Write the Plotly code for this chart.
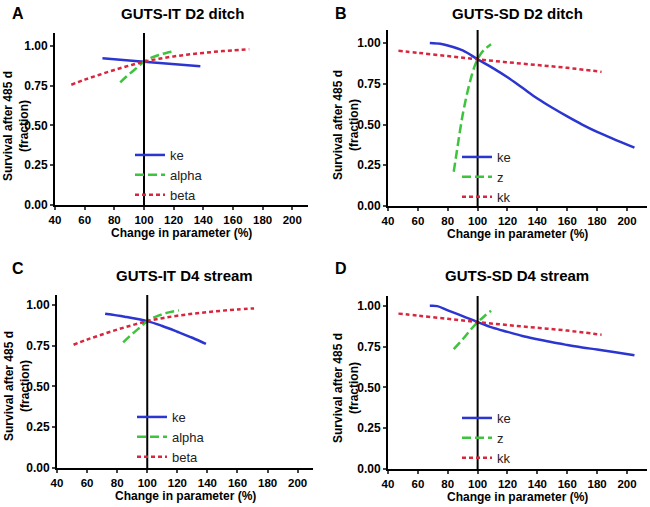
import plotly.graph_objects as go

# ---------------- data ----------------
# Panel A: GUTS-IT D2 ditch
a_ke_x = [72, 100, 138]
a_ke_y = [0.922, 0.900, 0.872]
a_alpha_x = [84, 88, 92, 96, 100, 105, 110, 115, 121]
a_alpha_y = [0.770, 0.805, 0.837, 0.868, 0.900, 0.925, 0.942, 0.955, 0.966]
a_beta_x = [51, 60, 70, 80, 90, 100, 110, 120, 130, 140, 150, 160, 171]
a_beta_y = [0.755, 0.787, 0.818, 0.848, 0.875, 0.900, 0.918, 0.933, 0.945, 0.955, 0.964, 0.971, 0.978]

# Panel B: GUTS-SD D2 ditch
b_ke_x = [68, 75, 80, 90, 100, 110, 120, 130, 140, 150, 160, 170, 180, 190, 205]
b_ke_y = [1.000, 0.995, 0.985, 0.955, 0.900, 0.848, 0.790, 0.725, 0.660, 0.603, 0.550, 0.500, 0.455, 0.415, 0.358]
b_z_x = [84, 86, 88, 90, 92, 94, 96, 98, 100, 102, 104, 106, 109]
b_z_y = [0.210, 0.330, 0.450, 0.560, 0.650, 0.730, 0.800, 0.858, 0.900, 0.932, 0.955, 0.972, 0.993]
b_kk_x = [47, 60, 80, 100, 120, 140, 160, 183]
b_kk_y = [0.952, 0.940, 0.920, 0.900, 0.882, 0.865, 0.848, 0.823]

# Panel C: GUTS-IT D4 stream
c_ke_x = [72, 85, 100, 110, 120, 130, 139]
c_ke_y = [0.945, 0.927, 0.900, 0.870, 0.835, 0.798, 0.760]
c_alpha_x = [84, 88, 92, 96, 100, 105, 110, 115, 121]
c_alpha_y = [0.770, 0.805, 0.837, 0.868, 0.900, 0.925, 0.942, 0.955, 0.966]
c_beta_x = [51, 60, 70, 80, 90, 100, 110, 120, 130, 140, 150, 160, 171]
c_beta_y = [0.755, 0.787, 0.818, 0.848, 0.875, 0.900, 0.918, 0.933, 0.945, 0.955, 0.964, 0.971, 0.978]

# Panel D: GUTS-SD D4 stream
d_ke_x = [68, 73, 80, 90, 100, 110, 120, 130, 140, 150, 160, 170, 180, 190, 205]
d_ke_y = [1.000, 0.998, 0.972, 0.937, 0.900, 0.866, 0.840, 0.815, 0.795, 0.776, 0.760, 0.745, 0.732, 0.718, 0.697]
d_z_x = [84, 90, 95, 100, 105, 109]
d_z_y = [0.735, 0.795, 0.850, 0.900, 0.940, 0.970]
d_kk_x = [47, 60, 80, 100, 120, 140, 160, 183]
d_kk_y = [0.952, 0.940, 0.920, 0.900, 0.882, 0.865, 0.848, 0.823]

titles = ["GUTS-IT D2 ditch", "GUTS-SD D2 ditch", "GUTS-IT D4 stream", "GUTS-SD D4 stream"]
letters = ["A", "B", "C", "D"]
x_title = "Change in parameter (%)"
y_title = "Survival after 485 d<br>(fraction)"
y_ticks = [0, 0.25, 0.5, 0.75, 1.0]
y_ticklabels = ["0.00", "0.25", "0.50", "0.75", "1.00"]
x_ticks = [40, 60, 80, 100, 120, 140, 160, 180, 200]
ref_x = 100

BLUE = "#2b35d0"
GREEN = "#3dc43d"
RED = "#d7263d"
FONT = "Liberation Sans"

panels = [
    [("ke", a_ke_x, a_ke_y, BLUE, "solid"), ("alpha", a_alpha_x, a_alpha_y, GREEN, "9px,4px"), ("beta", a_beta_x, a_beta_y, RED, "4px,3px")],
    [("ke", b_ke_x, b_ke_y, BLUE, "solid"), ("z", b_z_x, b_z_y, GREEN, "9px,4px"), ("kk", b_kk_x, b_kk_y, RED, "4px,3px")],
    [("ke", c_ke_x, c_ke_y, BLUE, "solid"), ("alpha", c_alpha_x, c_alpha_y, GREEN, "9px,4px"), ("beta", c_beta_x, c_beta_y, RED, "4px,3px")],
    [("ke", d_ke_x, d_ke_y, BLUE, "solid"), ("z", d_z_x, d_z_y, GREEN, "9px,4px"), ("kk", d_kk_x, d_kk_y, RED, "4px,3px")],
]

W, H = 650, 507
# pixel geometry: (x_left, x_right, y_bottom(0), y_top)
geom = [
    (55, 308, 205, 33),
    (388, 647, 206, 30),
    (57, 313, 468, 295),
    (388, 647, 469, 296),
]
x_ranges = [[40, 210.6], [40, 213.4], [40, 210.2], [40, 213.4]]
y_ranges = [[0, 1.08], [0, 1.08], [0, 1.06], [0, 1.06]]
legend_pos = [(130, 140), (457, 142), (132, 402), (457, 403)]
title_pos = [(182, 13), (517, 13), (184, 275), (517, 275)]
letter_pos = [(10, 13), (333, 13), (10, 268), (333, 268)]
xtitle_pos = [(181, 233), (517, 234), (185, 496), (517, 497)]
ytitle_pos = [(16, 126), (346, 125), (17, 386), (346, 388)]

fig = go.Figure()
layout = dict(
    width=W, height=H, margin=dict(l=0, r=0, t=0, b=0, autoexpand=False),
    paper_bgcolor="white", plot_bgcolor="white",
    font=dict(family=FONT, color="black"),
    annotations=[], shapes=[],
)

for i, series in enumerate(panels):
    n = "" if i == 0 else str(i + 1)
    xa, ya = "x" + n, "y" + n
    lg = "legend" + n
    for name, xs, ys, col, dash in series:
        fig.add_trace(go.Scatter(
            x=xs, y=ys, mode="lines", name=name, line_shape="spline",
            line=dict(color=col, width=2.5, dash=dash),
            xaxis=xa, yaxis=ya, legend=lg,
        ))
    xl, xr, yb, yt = geom[i]
    layout["xaxis" + n] = dict(
        domain=[xl / W, xr / W], range=x_ranges[i], anchor=ya, automargin=False,
        tickvals=x_ticks, ticks="outside", ticklen=3, tickwidth=2,
        showline=True, linewidth=2, linecolor="black", showgrid=False, zeroline=False,
        tickfont=dict(family=FONT, size=11.5, color="black", weight="bold"),
    )
    layout["yaxis" + n] = dict(
        domain=[(H - yb) / H, (H - yt) / H], range=y_ranges[i], anchor=xa, automargin=False,
        tickvals=y_ticks, ticktext=y_ticklabels, ticks="outside", ticklen=3, tickwidth=2,
        showline=True, linewidth=2, linecolor="black", showgrid=False, zeroline=False,
        tickfont=dict(family=FONT, size=12, color="black", weight="bold"),
    )
    lx, ly = legend_pos[i]
    layout[lg] = dict(
        x=lx / W, y=1 - ly / H, xanchor="left", yanchor="top",
        bgcolor="rgba(0,0,0,0)", itemwidth=30, tracegroupgap=0,
        font=dict(family=FONT, size=13, color="#222222"),
    )
    layout["shapes"].append(dict(
        type="line", xref=xa, yref=ya, x0=ref_x, x1=ref_x, y0=0, y1=y_ranges[i][1],
        line=dict(color="black", width=2),
    ))
    tx, ty = title_pos[i]
    layout["annotations"].append(dict(
        text=titles[i], x=tx / W, y=1 - ty / H, xref="paper", yref="paper",
        showarrow=False, xanchor="center", yanchor="middle",
        font=dict(family=FONT, size=15, color="black", weight="bold"),
    ))
    lx2, ly2 = letter_pos[i]
    layout["annotations"].append(dict(
        text=letters[i], x=lx2 / W, y=1 - ly2 / H, xref="paper", yref="paper",
        showarrow=False, xanchor="left", yanchor="middle",
        font=dict(family=FONT, size=16, color="black", weight="bold"),
    ))
    xtx, xty = xtitle_pos[i]
    layout["annotations"].append(dict(
        text=x_title, x=xtx / W, y=1 - xty / H, xref="paper", yref="paper",
        showarrow=False, xanchor="center", yanchor="middle",
        font=dict(family=FONT, size=12, color="black", weight="bold"),
    ))
    ytx, yty = ytitle_pos[i]
    layout["annotations"].append(dict(
        text=y_title, x=ytx / W, y=1 - yty / H, xref="paper", yref="paper",
        showarrow=False, xanchor="center", yanchor="middle", textangle=-90,
        font=dict(family=FONT, size=12, color="black", weight="bold"),
    ))

fig.update_layout(**layout)
fig.write_html(
    "out.html",
    config={"displayModeBar": False},
    post_script="document.body.style.margin='0';document.body.style.padding='0';document.body.style.overflow='hidden';",
)
